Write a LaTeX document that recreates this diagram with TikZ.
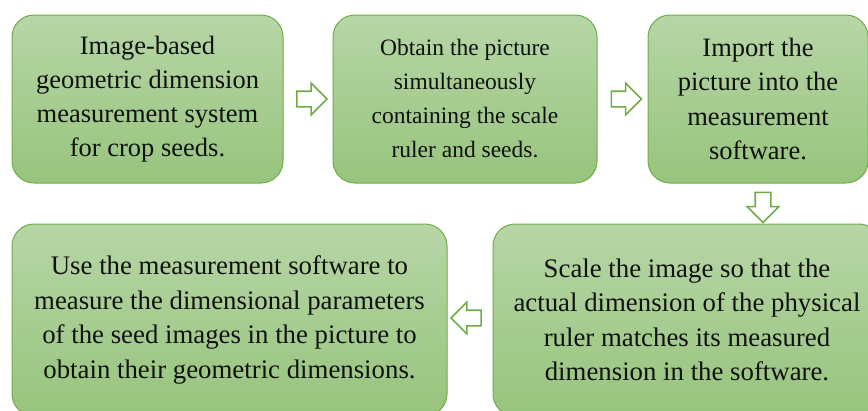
\documentclass[tikz,border=0pt]{standalone}
\usepackage{fontspec}
\setmainfont{Liberation Serif}
\usepackage{tikz}
\usepackage{xcolor}
\usetikzlibrary{positioning,shapes.arrows,calc}
\definecolor{boxedge}{HTML}{70AD47}
\definecolor{boxtop}{HTML}{B7D6A7}
\definecolor{boxbot}{HTML}{97C47D}
\definecolor{ink}{HTML}{111111}
\tikzset{
  flowbox/.style={draw=boxedge,top color=boxtop,bottom color=boxbot,
                  line width=1pt,rounded corners=22pt,
                  align=center,text=ink,inner sep=4pt},
  blockarr/.style={single arrow,draw=boxedge,fill=white,line width=1.6pt,
                   minimum height=30pt,minimum width=31pt,inner sep=7pt,
                   single arrow head extend=8pt}
}

\begin{document}
\begin{tikzpicture}[x=1pt,y=-1pt]
  \useasboundingbox (0,0) rectangle (868,410);
  % top row
  \node[flowbox,minimum width=271pt,minimum height=168pt,
        font=\fontsize{26.5}{34}\selectfont] (sys) at (147.5,99)
    {Image-based\\geometric dimension\\measurement system\\for crop seeds.};
  \node[flowbox,minimum width=264pt,minimum height=168pt,
        font=\fontsize{23.5}{34}\selectfont] (shot) at (465,99)
    {Obtain the picture\\simultaneously\\containing the scale\\ruler and seeds.};
  \node[flowbox,minimum width=220pt,minimum height=168pt,
        font=\fontsize{26.5}{34.5}\selectfont] (load) at (758,99)
    {Import the\\picture into the\\measurement\\software.};
  % bottom row
  \node[flowbox,minimum width=435pt,minimum height=192pt,
        font=\fontsize{26.8}{34.5}\selectfont] (meas) at (229.5,320)
    {Use the measurement software to\\measure the dimensional parameters\\of the seed images in the picture to\\obtain their geometric dimensions.};
  \node[flowbox,minimum width=388pt,minimum height=192pt,
        font=\fontsize{26.8}{34.5}\selectfont] (scal) at (687,320)
    {Scale the image so that the\\actual dimension of the physical\\ruler matches its measured\\dimension in the software.};
  % hollow arrows between the steps
  \node[blockarr] (a1) at ($(sys.east)!0.5!(shot.west)$) {};
  \node[blockarr] (a2) at ($(shot.east)!0.5!(load.west)$) {};
  \node[blockarr,rotate=-90] (a3)
    at ($(load.south)!0.5!(load.south |- scal.north)+(5,0)$) {};
  \node[blockarr,rotate=180] (a4) at ($(scal.west)!0.5!(meas.east)+(0,-2)$) {};
\end{tikzpicture}
\end{document}
